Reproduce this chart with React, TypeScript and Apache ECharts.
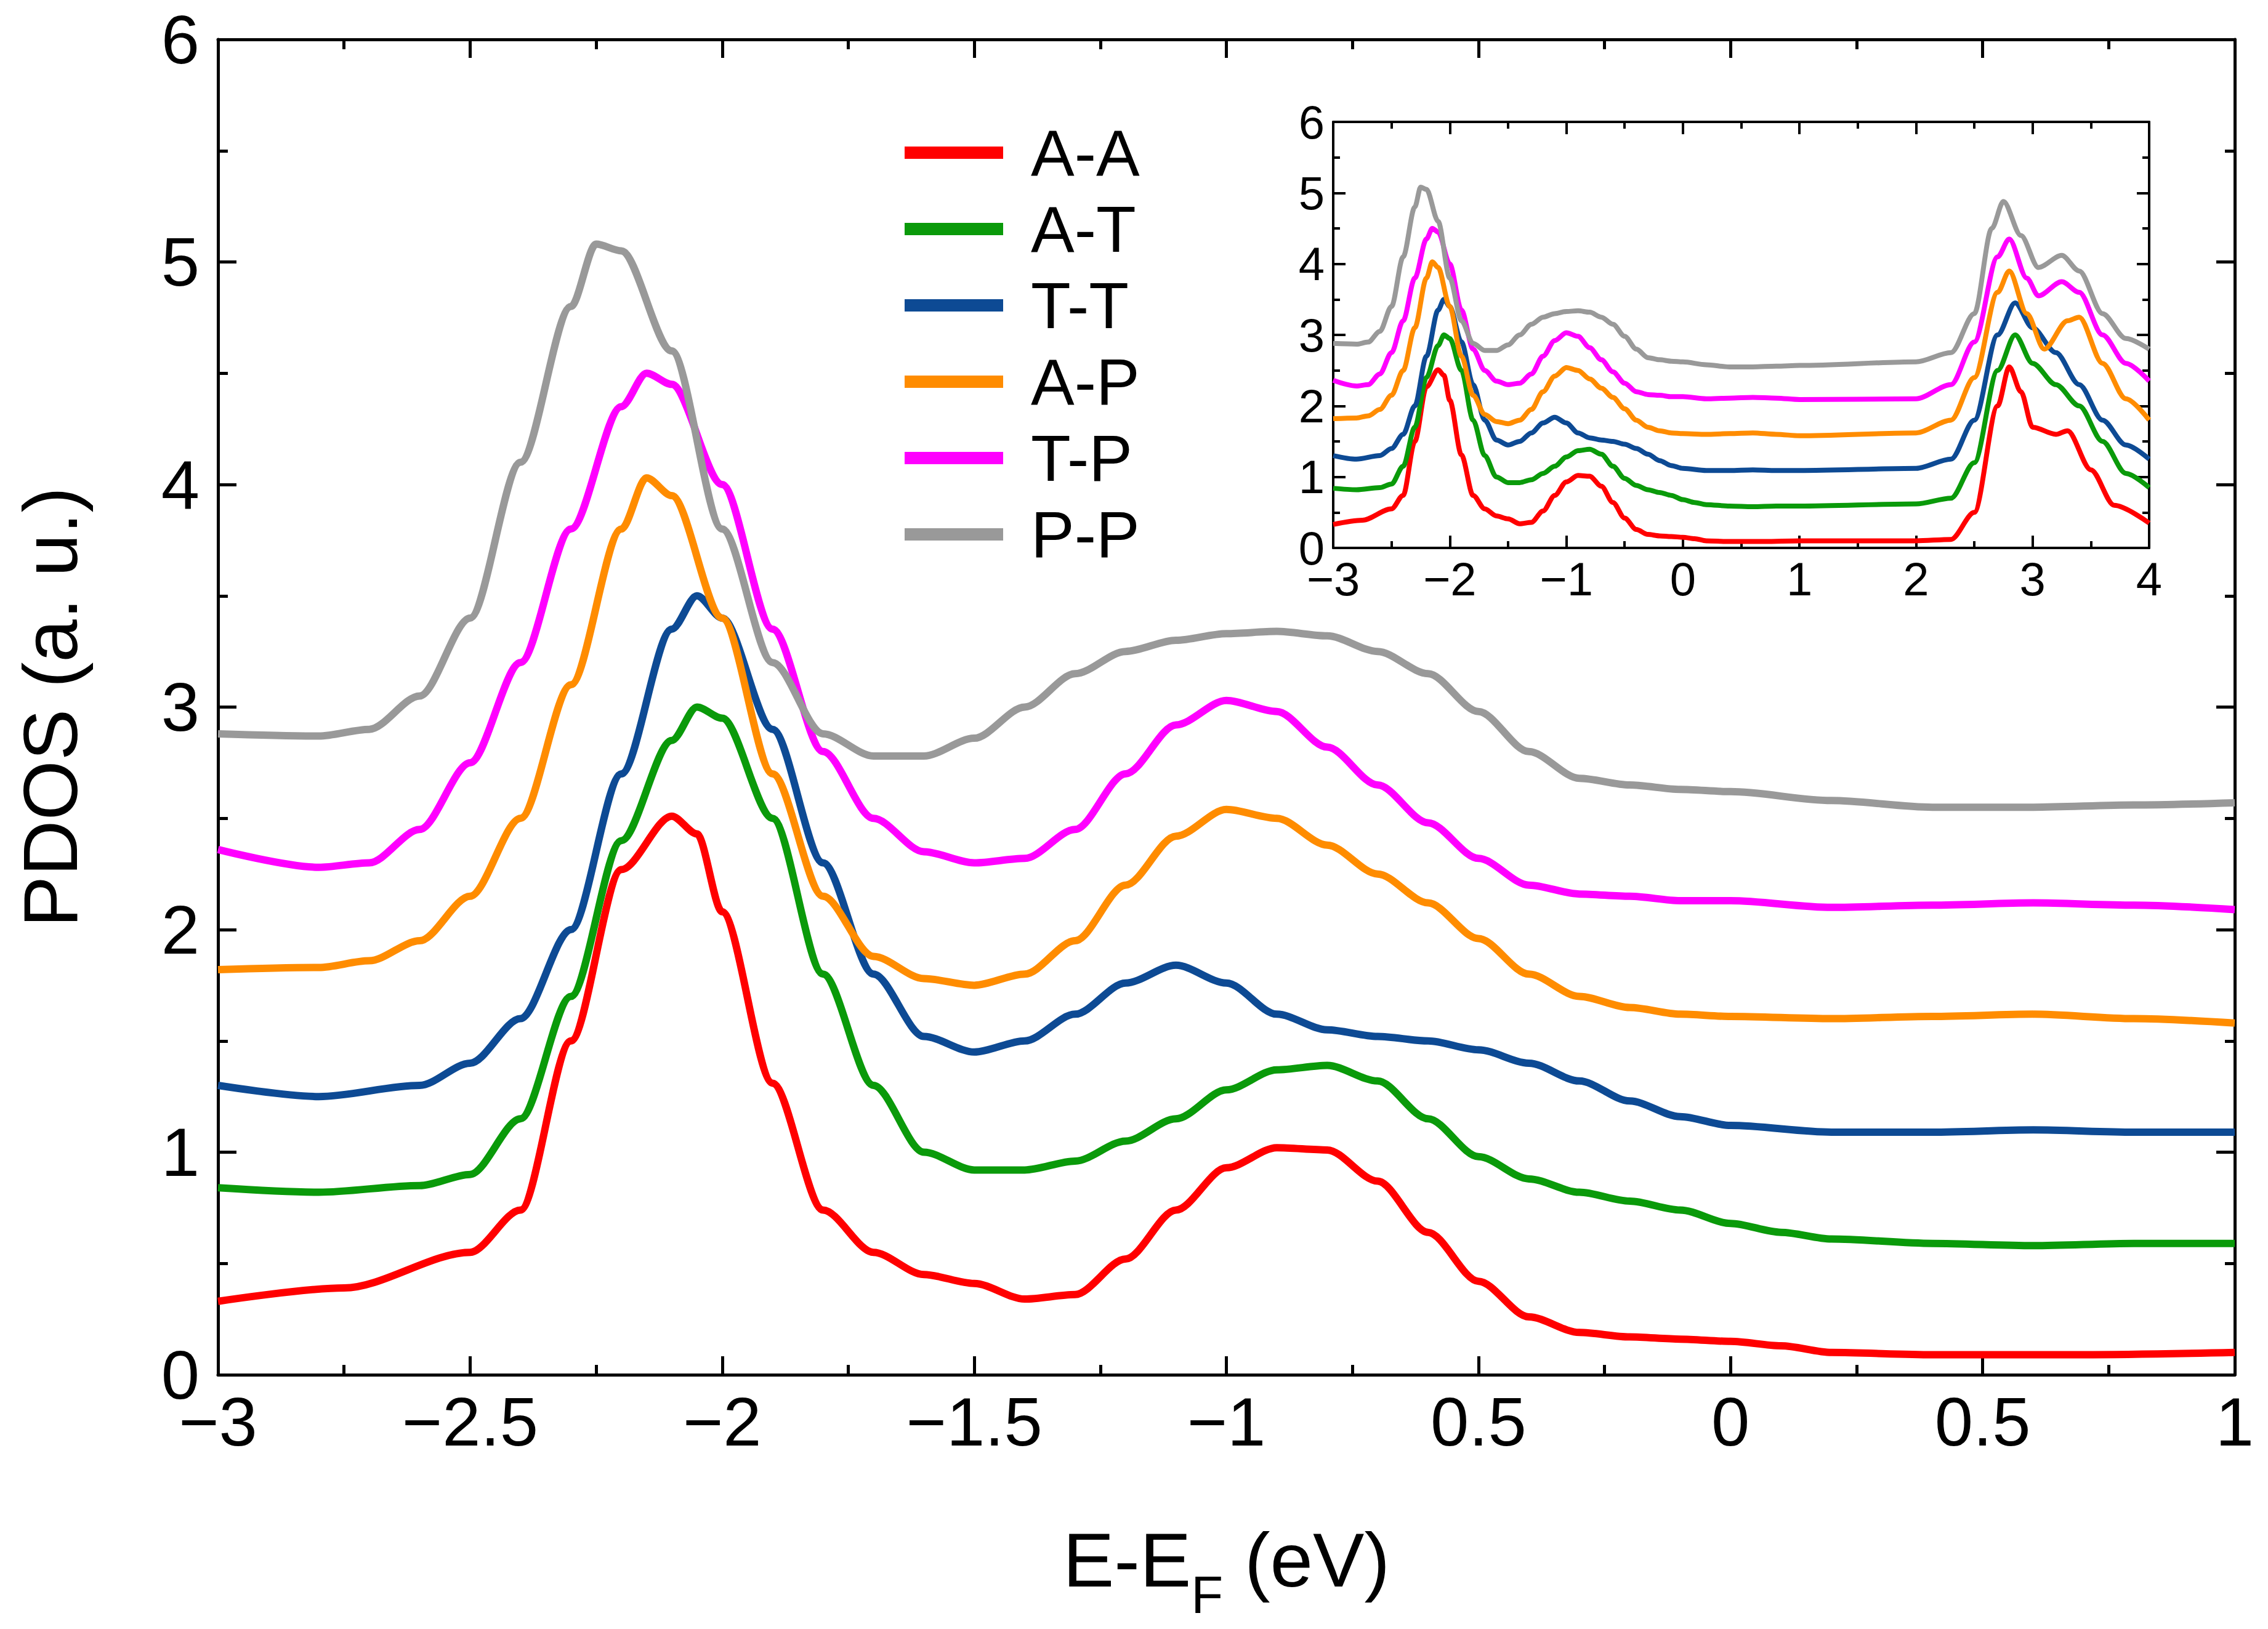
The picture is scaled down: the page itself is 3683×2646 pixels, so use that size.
import { useEffect, useRef } from "react";
import * as echarts from "echarts";

const NAMES = ["A-A", "A-T", "T-T", "A-P", "T-P", "P-P"];
const COLORS = ["#ff0000", "#0a9a0a", "#0d4a94", "#ff8c00", "#ff00ff", "#999999"];

// main panel, E-EF from -3 to 1
const AA = [[-3,0.33],[-2.75,0.39],[-2.5,0.55],[-2.4,0.74],[-2.3,1.5],[-2.2,2.27],[-2.1,2.51],[-2.05,2.43],[-2,2.08],[-1.9,1.31],[-1.8,0.74],[-1.7,0.55],[-1.6,0.45],[-1.5,0.41],[-1.4,0.34],[-1.3,0.36],[-1.2,0.52],[-1.1,0.74],[-1,0.93],[-0.9,1.02],[-0.8,1.01],[-0.7,0.87],[-0.6,0.64],[-0.5,0.42],[-0.4,0.26],[-0.3,0.19],[-0.2,0.17],[-0.1,0.16],[0,0.15],[0.1,0.13],[0.2,0.1],[0.4,0.09],[0.7,0.09],[1,0.1]];
const AT = [[-3,0.84],[-2.8,0.82],[-2.6,0.85],[-2.5,0.9],[-2.4,1.15],[-2.3,1.7],[-2.2,2.4],[-2.1,2.85],[-2.05,3.0],[-2,2.95],[-1.9,2.5],[-1.8,1.8],[-1.7,1.3],[-1.6,1.0],[-1.5,0.92],[-1.4,0.92],[-1.3,0.96],[-1.2,1.05],[-1.1,1.15],[-1,1.28],[-0.9,1.37],[-0.8,1.39],[-0.7,1.32],[-0.6,1.15],[-0.5,0.98],[-0.4,0.88],[-0.3,0.82],[-0.2,0.78],[-0.1,0.74],[0,0.68],[0.1,0.64],[0.2,0.61],[0.4,0.59],[0.6,0.58],[0.8,0.59],[1,0.59]];
const TT = [[-3,1.3],[-2.8,1.25],[-2.6,1.3],[-2.5,1.4],[-2.4,1.6],[-2.3,2.0],[-2.2,2.7],[-2.1,3.35],[-2.05,3.5],[-2,3.4],[-1.9,2.9],[-1.8,2.3],[-1.7,1.8],[-1.6,1.52],[-1.5,1.45],[-1.4,1.5],[-1.3,1.62],[-1.2,1.76],[-1.1,1.84],[-1,1.76],[-0.9,1.62],[-0.8,1.55],[-0.7,1.52],[-0.6,1.5],[-0.5,1.46],[-0.4,1.4],[-0.3,1.32],[-0.2,1.23],[-0.1,1.16],[0,1.12],[0.2,1.09],[0.4,1.09],[0.6,1.1],[0.8,1.09],[1,1.09]];
const AP = [[-3,1.82],[-2.8,1.83],[-2.7,1.86],[-2.6,1.95],[-2.5,2.15],[-2.4,2.5],[-2.3,3.1],[-2.2,3.8],[-2.15,4.03],[-2.1,3.95],[-2,3.4],[-1.9,2.7],[-1.8,2.15],[-1.7,1.88],[-1.6,1.78],[-1.5,1.75],[-1.4,1.8],[-1.3,1.95],[-1.2,2.2],[-1.1,2.42],[-1,2.54],[-0.9,2.5],[-0.8,2.38],[-0.7,2.25],[-0.6,2.12],[-0.5,1.96],[-0.4,1.8],[-0.3,1.7],[-0.2,1.65],[-0.1,1.62],[0,1.61],[0.2,1.6],[0.4,1.61],[0.6,1.62],[0.8,1.6],[1,1.58]];
const TP = [[-3,2.36],[-2.8,2.28],[-2.7,2.3],[-2.6,2.45],[-2.5,2.75],[-2.4,3.2],[-2.3,3.8],[-2.2,4.35],[-2.15,4.5],[-2.1,4.45],[-2,4.0],[-1.9,3.35],[-1.8,2.8],[-1.7,2.5],[-1.6,2.35],[-1.5,2.3],[-1.4,2.32],[-1.3,2.45],[-1.2,2.7],[-1.1,2.92],[-1,3.03],[-0.9,2.98],[-0.8,2.82],[-0.7,2.65],[-0.6,2.48],[-0.5,2.32],[-0.4,2.2],[-0.3,2.16],[-0.2,2.15],[-0.1,2.13],[0,2.13],[0.2,2.1],[0.4,2.11],[0.6,2.12],[0.8,2.11],[1,2.09]];
const PP = [[-3,2.88],[-2.8,2.87],[-2.7,2.9],[-2.6,3.05],[-2.5,3.4],[-2.4,4.1],[-2.3,4.8],[-2.25,5.08],[-2.2,5.05],[-2.1,4.6],[-2,3.8],[-1.9,3.2],[-1.8,2.88],[-1.7,2.78],[-1.6,2.78],[-1.5,2.86],[-1.4,3.0],[-1.3,3.15],[-1.2,3.25],[-1.1,3.3],[-1,3.33],[-0.9,3.34],[-0.8,3.32],[-0.7,3.25],[-0.6,3.15],[-0.5,2.98],[-0.4,2.8],[-0.3,2.68],[-0.2,2.65],[-0.1,2.63],[0,2.62],[0.2,2.58],[0.4,2.55],[0.6,2.55],[0.8,2.56],[1,2.57]];

// inset extension, 1 to 4 eV
const AA_HI = [[2,0.1],[2.3,0.12],[2.5,0.5],[2.7,2.0],[2.8,2.55],[2.9,2.2],[3,1.7],[3.2,1.6],[3.3,1.65],[3.5,1.1],[3.7,0.6],[4,0.35]];
const AT_HI = [[2,0.62],[2.3,0.7],[2.5,1.2],[2.7,2.5],[2.85,3.0],[3,2.6],[3.2,2.3],[3.4,2.0],[3.6,1.5],[3.8,1.05],[4,0.85]];
const TT_HI = [[2,1.12],[2.3,1.25],[2.5,1.8],[2.7,3.0],[2.85,3.45],[3,3.1],[3.2,2.75],[3.4,2.3],[3.6,1.8],[3.8,1.45],[4,1.25]];
const AP_HI = [[2,1.62],[2.3,1.8],[2.5,2.4],[2.7,3.6],[2.8,3.9],[2.95,3.3],[3.1,2.8],[3.3,3.2],[3.4,3.25],[3.6,2.6],[3.8,2.1],[4,1.8]];
const TP_HI = [[2,2.1],[2.3,2.3],[2.5,2.9],[2.7,4.1],[2.8,4.35],[2.95,3.8],[3.05,3.55],[3.25,3.75],[3.4,3.6],[3.6,3.0],[3.8,2.6],[4,2.35]];
const PP_HI = [[2,2.62],[2.3,2.75],[2.5,3.3],[2.65,4.5],[2.75,4.88],[2.9,4.4],[3.05,3.95],[3.25,4.12],[3.4,3.9],[3.6,3.3],[3.8,2.95],[4,2.8]];

const MAIN = [AA, AT, TT, AP, TP, PP];
const HI = [AA_HI, AT_HI, TT_HI, AP_HI, TP_HI, PP_HI];

const X_LABELS: Record<string, string> = { "-3": "−3", "-2.5": "−2.5", "-2": "−2", "-1.5": "−1.5", "-1": "−1", "-0.5": "0.5", "0": "0", "0.5": "0.5", "1": "1" };

const FONT = "Liberation Sans";

export default function App() {
  const ref = useRef<HTMLDivElement>(null);

  useEffect(() => {
    if (!ref.current) return;
    const chart = echarts.init(ref.current, null, { renderer: "svg" });

    const axisCommon = (fs: number, tl: number, ml: number, lw: number) => ({
      axisLine: { onZero: false, lineStyle: { color: "#000", width: lw } },
      axisTick: { inside: true, length: tl, lineStyle: { color: "#000", width: lw } },
      minorTick: { show: true, splitNumber: 2, length: ml, lineStyle: { color: "#000", width: lw } },
      splitLine: { show: false },
      axisLabel: { color: "#000", fontSize: fs, fontFamily: FONT },
    });
    const mainC = axisCommon(112, 30, 16, 5);
    const insC = axisCommon(76, 20, 11, 4);

    const series: any[] = [];
    MAIN.forEach((d, i) => series.push({
      type: "line", name: NAMES[i], data: d, smooth: 0.3, smoothMonotone: "x", symbol: "none",
      xAxisIndex: 0, yAxisIndex: 0, lineStyle: { color: COLORS[i], width: 12 }, itemStyle: { color: COLORS[i] },
    }));
    MAIN.forEach((d, i) => series.push({
      type: "line", name: NAMES[i], data: [...d, ...HI[i]], smooth: 0.3, smoothMonotone: "x", symbol: "none",
      xAxisIndex: 2, yAxisIndex: 2, lineStyle: { color: COLORS[i], width: 8 }, itemStyle: { color: COLORS[i] },
    }));

    chart.setOption({
      animation: false,
      backgroundColor: "#fff",
      grid: [
        { left: 346, right: 46, top: 55, bottom: 357 },
        { left: 2157, right: 185, top: 190, bottom: 1748 },
      ],
      legend: {
        data: NAMES, orient: "vertical", left: 1456, top: 182, itemWidth: 160, itemHeight: 20, itemGap: 18,
        icon: "rect",
        textStyle: { color: "#000", fontSize: 106, fontFamily: FONT, padding: [0, 0, 0, 40] },
      },
      xAxis: [
        { type: "value", gridIndex: 0, min: -3, max: 1, interval: 0.5, ...mainC,
          axisLabel: { ...mainC.axisLabel, margin: 20, formatter: (v: number) => X_LABELS[String(v)] ?? String(v) },
          name: "{a|E-E}{b|F}{a| (eV)}", nameLocation: "middle", nameGap: 200,
          nameTextStyle: { rich: {
            a: { fontSize: 125, fontFamily: FONT, color: "#000", lineHeight: 200, verticalAlign: "middle" },
            b: { fontSize: 85, fontFamily: FONT, color: "#000", lineHeight: 200, verticalAlign: "bottom" } } } },
        { type: "value", gridIndex: 0, min: -3, max: 1, interval: 0.5, position: "top", ...mainC, axisLabel: { show: false } },
        { type: "value", gridIndex: 1, min: -3, max: 4, interval: 1, ...insC,
          axisLabel: { ...insC.axisLabel, margin: 12, formatter: (v: number) => (v < 0 ? "−" + Math.abs(v) : String(v)) } },
        { type: "value", gridIndex: 1, min: -3, max: 4, interval: 1, position: "top", ...insC, axisLabel: { show: false } },
      ],
      yAxis: [
        { type: "value", gridIndex: 0, min: 0, max: 6, interval: 1, ...mainC,
          axisLabel: { ...mainC.axisLabel, margin: 30 },
          name: "PDOS (a. u.)", nameLocation: "middle", nameGap: 210,
          nameTextStyle: { fontSize: 125, fontFamily: FONT, color: "#000" } },
        { type: "value", gridIndex: 0, min: 0, max: 6, interval: 1, position: "right", ...mainC, axisLabel: { show: false } },
        { type: "value", gridIndex: 1, min: 0, max: 6, interval: 1, ...insC, axisLabel: { ...insC.axisLabel, margin: 14 } },
        { type: "value", gridIndex: 1, min: 0, max: 6, interval: 1, position: "right", ...insC, axisLabel: { show: false } },
      ],
      series,
    });
    return () => chart.dispose();
  }, []);

  return <div ref={ref} style={{ width: 3667, height: 2630 }} />;
}
